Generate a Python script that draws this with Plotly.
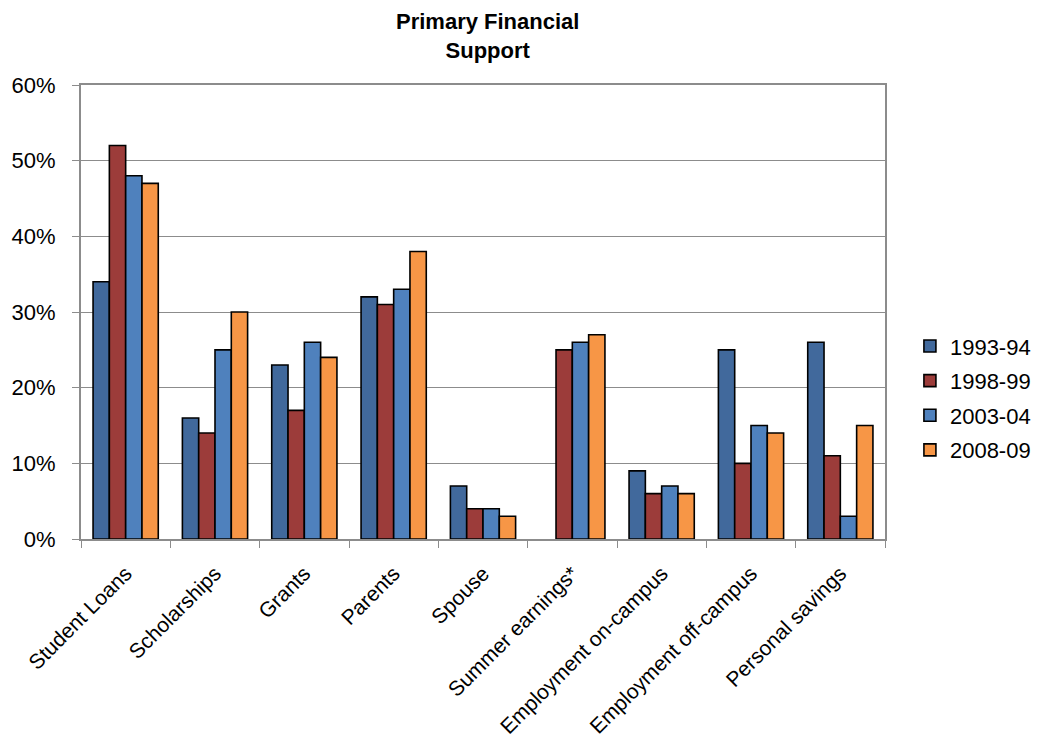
import plotly.graph_objects as go

categories = ["Student Loans", "Scholarships", "Grants", "Parents", "Spouse",
              "Summer earnings*", "Employment on-campus", "Employment off-campus",
              "Personal savings"]
s1993 = [34, 16, 23, 32, 7, None, 9, 25, 26]
s1998 = [52, 14, 17, 31, 4, 25, 6, 10, 11]
s2003 = [48, 25, 26, 33, 4, 26, 7, 15, 3]
s2008 = [47, 30, 24, 38, 3, 27, 6, 14, 15]
series_names = ["1993-94", "1998-99", "2003-04", "2008-09"]
colors = ["#41699C", "#9C3C3A", "#4F81BD", "#F79646"]

fig = go.Figure()
for name, vals, col in zip(series_names, [s1993, s1998, s2003, s2008], colors):
    fig.add_trace(go.Bar(
        x=categories, y=[None if v is None else v / 100 for v in vals], name=name,
        legendgroup=name,
        marker=dict(color=col, line=dict(color="black", width=1.6)),
    ))

font_family = "Liberation Sans, Arial, sans-serif"
fig.add_annotation(text="<b>Primary Financial<br>Support</b>", xref="paper", yref="paper",
                   x=0.506, y=1.172, xanchor="center", yanchor="top", showarrow=False,
                   font=dict(family=font_family, size=22, color="black"))
fig.update_layout(
    width=1039, height=738,
    margin=dict(l=81, r=154, t=85, b=199, autoexpand=False),
    paper_bgcolor="white", plot_bgcolor="white",
    barmode="group", bargap=0.27, bargroupgap=0,
    font=dict(family=font_family, size=22, color="black"),
    legend=dict(x=1.031, xanchor="left", y=0.31, yanchor="middle",
                font=dict(size=22), itemwidth=30, traceorder="grouped", tracegroupgap=3,
                bgcolor="rgba(0,0,0,0)"),
    showlegend=True,
)
fig.update_yaxes(range=[0, 0.6], dtick=0.1, tickformat=".0%",
                 showgrid=True, gridcolor="#8C8C8C", gridwidth=1.3,
                 showline=True, linecolor="#8C8C8C", linewidth=2, mirror=True,
                 ticks="outside", ticklen=7, tickcolor="#8C8C8C",
                 ticklabelstandoff=12,
                 tickfont=dict(size=22), zeroline=False)
fig.update_xaxes(showline=True, linecolor="#8C8C8C", linewidth=2, mirror=True,
                 ticks="outside", tickson="boundaries", ticklen=7, tickcolor="#8C8C8C",
                 ticklabelstandoff=12,
                 tickangle=-45, tickfont=dict(size=21))

fig.write_html("out.html")
